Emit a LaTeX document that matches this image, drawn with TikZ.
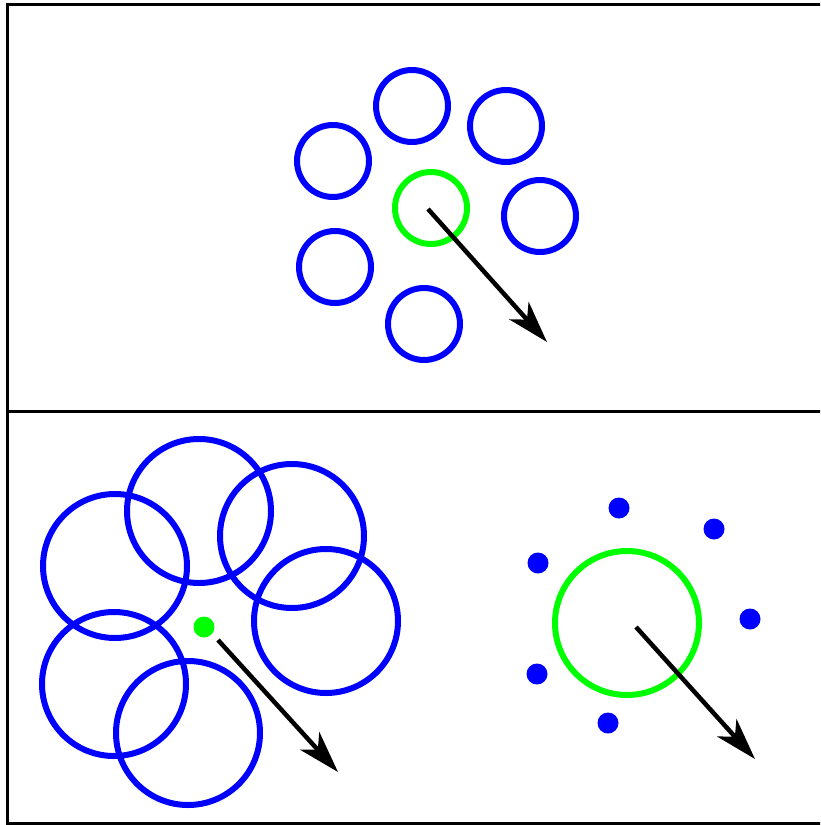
\documentclass[tikz,border=0pt]{standalone}
\usetikzlibrary{arrows.meta}
\begin{document}
\begin{tikzpicture}[x=1pt,y=-1pt,
  bluering/.style={draw=blue,line width=6pt,circle,minimum size=72pt,inner sep=0pt},
  bigring/.style={draw=blue,line width=6pt,circle,minimum size=144pt,inner sep=0pt},
  greenring/.style={draw=green,line width=6pt,circle,minimum size=72pt,inner sep=0pt},
  biggreen/.style={draw=green,line width=6pt,circle,minimum size=144pt,inner sep=0pt},
  bluedot/.style={fill=blue,circle,minimum size=21pt,inner sep=0pt},
  greendot/.style={fill=green,circle,minimum size=21pt,inner sep=0pt},
  vec/.style={line width=4.5pt,-{Stealth[length=42pt,width=26pt,inset=12pt]}},
  frame/.style={line width=3pt}]
\useasboundingbox (0,0) rectangle (820,825);
\begin{scope}
\clip (0,0) rectangle (820,825);
\draw[frame] (830,4.5) -- (7.5,4.5) -- (7.5,823.5) -- (830,823.5);
\draw[frame] (7.5,411) -- (830,411);
\end{scope}
% top panel
\node[greenring] (g) at (431,208) {};
\node[bluering] (b1) at (412,106) {};
\node[bluering] (b2) at (506,126) {};
\node[bluering] (b3) at (333,161) {};
\node[bluering] (b4) at (540,216) {};
\node[bluering] (b5) at (335,267) {};
\node[bluering] (b6) at (424,324) {};
\coordinate (a1s) at (428,209);
\coordinate (a1e) at (547,342);
\draw[vec] (a1s) -- (a1e);
% bottom left
\node[bigring] (c1) at (199,511) {};
\node[bigring] (c2) at (292,536) {};
\node[bigring] (c3) at (115,566) {};
\node[bigring] (c4) at (326,621) {};
\node[bigring] (c5) at (114,684) {};
\node[bigring] (c6) at (188,733) {};
\node[greendot] (gd) at (204,627) {};
\coordinate (a2s) at (218,640);
\coordinate (a2e) at (338,772);
\draw[vec] (a2s) -- (a2e);
% bottom right
\node[biggreen] (G) at (627,623) {};
\node[bluedot] (d1) at (619,508) {};
\node[bluedot] (d2) at (714,529) {};
\node[bluedot] (d3) at (538,563) {};
\node[bluedot] (d4) at (750,619) {};
\node[bluedot] (d5) at (537,674) {};
\node[bluedot] (d6) at (608,723) {};
\coordinate (a3s) at (636,627);
\coordinate (a3e) at (755,759);
\draw[vec] (a3s) -- (a3e);
\end{tikzpicture}
\end{document}
